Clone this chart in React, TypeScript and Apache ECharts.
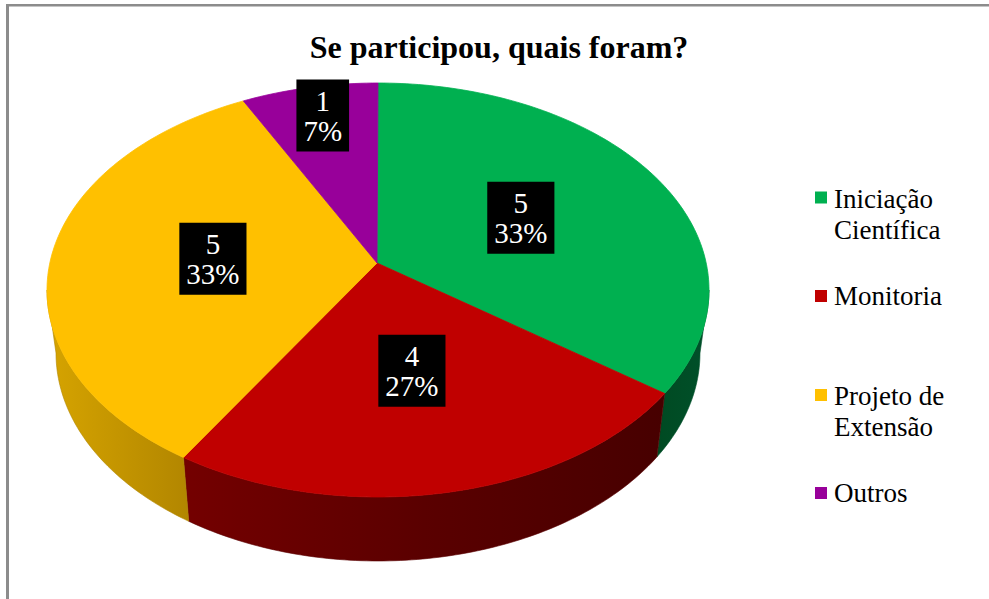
import React, { useEffect, useRef } from 'react';
import * as echarts from 'echarts';

// ---------- data ----------
const TITLE = 'Se participou, quais foram?';
const CATEGORIES = ['Iniciação Científica', 'Monitoria', 'Projeto de Extensão', 'Outros'];
const LEGEND_LINES = ['Iniciação\nCientífica', 'Monitoria', 'Projeto de\nExtensão', 'Outros'];
const VALUES = [5, 4, 5, 1];

// ---------- styles / layout ----------
const TOP_COLORS = ['#00B050', '#C00000', '#FFC000', '#98009A'];
const SIDE_STOPS = [
  ['#004A22', '#00502A'],
  ['#740000', '#5A0000', '#470000'],
  ['#D6A400', '#B28600'],
  ['#5A005A', '#4A004A'],
];
const GEO = {
  cx: 378, cy: 290, rx: 331, ry: 207, // top face ellipse
  bcx: 378, bcy: 353, brx: 322, bry: 208, // bottom edge ellipse
  ax: 377, ay: 263, // apex where slices meet
};
const LABEL_SHIFT_Y = -7;
const LEGEND_X = 815;
const LEGEND_TEXT_X = 834;
const LEGEND_Y = [214, 296, 411, 493];
const LEGEND_MARK_Y = [197.5, 296, 395, 493];
const SERIF = 'Liberation Serif';

const rad = (d: number) => (d * Math.PI) / 180;
const topPt = (a: number) => [GEO.cx + GEO.rx * Math.cos(rad(a)), GEO.cy - GEO.ry * Math.sin(rad(a))];
const botPt = (a: number) => [GEO.bcx + GEO.brx * Math.cos(rad(a)), GEO.bcy - GEO.bry * Math.sin(rad(a))];
const arc = (f: (a: number) => number[], from: number, to: number) => {
  const n = Math.max(2, Math.ceil(Math.abs(to - from)));
  const pts: number[][] = [];
  for (let k = 0; k <= n; k++) pts.push(f(from + ((to - from) * k) / n));
  return pts;
};

export default function App() {
  const ref = useRef<HTMLDivElement>(null);

  useEffect(() => {
    if (!ref.current) return;
    const chart = echarts.init(ref.current, undefined, { renderer: 'svg' });
    const total = VALUES.reduce((a, b) => a + b, 0);
    const cum: number[] = [0];
    VALUES.forEach((v) => cum.push(cum[cum.length - 1] + v));

    const renderItem = (params: any, api: any) => {
      const i = params.dataIndex;
      const v = api.value(0);
      const a0 = 90 - (360 * cum[i]) / total;
      const a1 = 90 - (360 * (cum[i] + v)) / total;
      const children: any[] = [];

      // side (front half only)
      const hi = Math.min(a0, 0);
      const lo = Math.max(a1, -180);
      if (hi > lo) {
        const pts = arc(topPt, hi, lo).concat(arc(botPt, lo, hi));
        const stops = SIDE_STOPS[i];
        children.push({
          type: 'polygon',
          z2: 1,
          shape: { points: pts },
          style: {
            fill: {
              type: 'linear', x: 0, y: 0, x2: 1, y2: 0,
              colorStops: stops.map((c, k) => ({ offset: k / (stops.length - 1), color: c })),
            },
            stroke: stops[Math.floor(stops.length / 2)],
            lineWidth: 0.6,
          },
        });
      }

      // top face
      const topPts = [[GEO.ax, GEO.ay]].concat(arc(topPt, a0, a1));
      children.push({
        type: 'polygon',
        z2: 5,
        shape: { points: topPts },
        style: { fill: TOP_COLORS[i], stroke: TOP_COLORS[i], lineWidth: 0.8 },
      });

      // label
      const mid = (a0 + a1) / 2;
      const frac = a0 - a1 < 40 ? 0.8 : 0.5;
      const rp = topPt(mid);
      const px = GEO.ax + frac * (rp[0] - GEO.ax);
      const py = GEO.ay + frac * (rp[1] - GEO.ay) + LABEL_SHIFT_Y;
      const pct = Math.round((v / total) * 100);
      children.push({
        type: 'text',
        z2: 10,
        x: px,
        y: py,
        style: {
          text: `${v}\n${pct}%`,
          fill: '#ffffff',
          backgroundColor: '#000000',
          padding: [6, 7, 6, 7],
          fontSize: 29,
          fontFamily: SERIF,
          lineHeight: 30,
          align: 'center',
          verticalAlign: 'middle',
        },
      });

      return { type: 'group', children };
    };

    const graphics: any[] = [
      { type: 'rect', shape: { x: 6, y: 4, width: 983, height: 2.5 }, style: { fill: '#8C8C8C' }, silent: true },
      { type: 'rect', shape: { x: 6, y: 4, width: 3, height: 595 }, style: { fill: '#8C8C8C' }, silent: true },
      {
        type: 'text',
        x: 499,
        y: 47,
        style: {
          text: TITLE,
          fill: '#000',
          fontSize: 32,
          fontWeight: 'bold',
          fontFamily: SERIF,
          align: 'center',
          verticalAlign: 'middle',
        },
      },
    ];
    CATEGORIES.forEach((_, i) => {
      graphics.push({
        type: 'rect',
        shape: { x: LEGEND_X, y: LEGEND_MARK_Y[i] - 6, width: 12, height: 12 },
        style: { fill: TOP_COLORS[i] },
      });
      graphics.push({
        type: 'text',
        x: LEGEND_TEXT_X,
        y: LEGEND_Y[i],
        style: {
          text: LEGEND_LINES[i],
          fill: '#000',
          fontSize: 27,
          fontFamily: SERIF,
          lineHeight: 31,
          align: 'left',
          verticalAlign: 'middle',
        },
      });
    });

    chart.setOption({
      animation: false,
      backgroundColor: '#ffffff',
      graphic: graphics,
      series: [
        {
          type: 'custom',
          coordinateSystem: 'none',
          renderItem,
          silent: true,
          data: VALUES.map((v, i) => ({ value: [v], name: CATEGORIES[i] })),
        },
      ],
    });

    return () => chart.dispose();
  }, []);

  return (
    <div
      ref={ref}
      style={{ position: 'fixed', left: 0, top: 0, width: 989, height: 599, background: '#fff' }}
    />
  );
}
